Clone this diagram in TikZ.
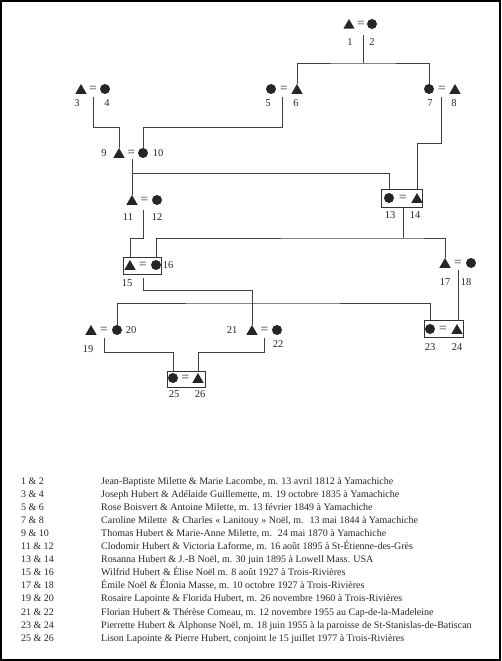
\documentclass[tikz,border=0pt]{standalone}
\usepackage{fontspec}
\setmainfont{Liberation Serif}
\usetikzlibrary{shapes.geometric}
\begin{document}
\begin{tikzpicture}[x=1pt,y=-1pt,
 tri/.style={regular polygon,regular polygon sides=3,fill=black!85,inner sep=0pt,minimum size=13pt},
 circ/.style={circle,fill=black!85,inner sep=0pt,minimum size=10pt},
 eqs/.style={inner sep=0pt,font=\fontsize{13.5}{13.5}\selectfont,text=black!80},
 lab/.style={inner sep=0pt,font=\fontsize{10.5}{12}\selectfont,text=black!85},
 couplebox/.style={draw=black!80,line width=0.6pt,inner sep=0pt},
 conn/.style={draw=black!75,line width=0.6pt},
 leg/.style={inner sep=0pt,font=\fontsize{10}{12}\selectfont,anchor=base west,text=black!85}]
\useasboundingbox (0,0) rectangle (501,661);
\node[draw,line width=2pt,minimum width=499pt,minimum height=659pt,inner sep=0pt] (frame) at (250.5,330.5) {};
% boxes
\node[couplebox,minimum width=41pt,minimum height=18pt] (b13) at (401.5,198.5) {};
\node[couplebox,minimum width=38pt,minimum height=17pt] (b15) at (142,265.5) {};
\node[couplebox,minimum width=39pt,minimum height=17pt] (b23) at (443.5,328.5) {};
\node[couplebox,minimum width=38pt,minimum height=16pt] (b25) at (186,379) {};
% 1 = 2
\node[tri] (t1) at (349,25.5) {};
\node[eqs] (e12) at (361,24) {=};
\node[circ] (c2) at (372,24) {};
\node[lab] (l1) at (350,42) {1};
\node[lab] (l2) at (372,42) {2};
\coordinate (d12) at (363,35);
% 3 = 4
\node[tri] (t3) at (81,90.5) {};
\node[eqs] (e34) at (93,89) {=};
\node[circ] (c4) at (105,89) {};
\node[lab] (l3) at (77,103) {3};
\node[lab] (l4) at (107,103) {4};
\coordinate (d34) at (93,97);
% 5 = 6
\node[circ] (c5) at (271,89) {};
\node[eqs] (e56) at (284,89) {=};
\node[tri] (t6) at (297,90.5) {};
\node[lab] (l5) at (268,103) {5};
\node[lab] (l6) at (296,103) {6};
\coordinate (d56) at (282,97);
% 7 = 8
\node[circ] (c7) at (429,89) {};
\node[eqs] (e78) at (442,89) {=};
\node[tri] (t8) at (455,90.5) {};
\node[lab] (l7) at (430,103) {7};
\node[lab] (l8) at (454,103) {8};
\coordinate (d78) at (441,97);
% 9 = 10
\node[lab] (l9) at (104,153) {9};
\node[tri] (t9) at (119,154.5) {};
\node[eqs] (e910) at (131.5,153) {=};
\node[circ] (c10) at (143,153) {};
\node[lab] (l10) at (158,153) {10};
\coordinate (d910) at (132,159);
\coordinate (h910) at (132,173);
% 11 = 12
\node[tri] (t11) at (132,201.5) {};
\node[eqs] (e1112) at (144.5,200) {=};
\node[circ] (c12) at (157,200) {};
\node[lab] (l11) at (128,217) {11};
\node[lab] (l12) at (157,217) {12};
\coordinate (d1112) at (143,210);
% 13 = 14
\node[circ] (c13) at (389,198) {};
\node[eqs] (e1314) at (403,198) {=};
\node[tri] (t14) at (417,199.5) {};
\node[lab] (l13) at (390,215) {13};
\node[lab] (l14) at (415,215) {14};
\coordinate (d1314) at (403,207.5);
% 15 = 16
\node[tri] (t15) at (130,266.5) {};
\node[eqs] (e1516) at (143,265) {=};
\node[circ] (c16) at (156,265) {};
\node[lab] (l16) at (168,265) {16};
\node[lab] (l15) at (127,283) {15};
\coordinate (d1516) at (143,278);
% 17 = 18
\node[tri] (t17) at (445,264.5) {};
\node[eqs] (e1718) at (458,263) {=};
\node[circ] (c18) at (471,263) {};
\node[lab] (l17) at (445,282) {17};
\node[lab] (l18) at (466,282) {18};
\coordinate (d1718) at (458,270);
% 19 = 20
\node[tri] (t19) at (91,331.5) {};
\node[eqs] (e1920) at (104,330) {=};
\node[circ] (c20) at (117,330) {};
\node[lab] (l20) at (131,330) {20};
\node[lab] (l19) at (88,349) {19};
\coordinate (d1920) at (104,338);
% 21 = 22
\node[lab] (l21) at (232,330) {21};
\node[tri] (t21) at (252,331.5) {};
\node[eqs] (e2122) at (264.5,330) {=};
\node[circ] (c22) at (277,330) {};
\node[lab] (l22) at (278,344) {22};
\coordinate (d2122) at (264,338);
\coordinate (hsib) at (252,303);
% 23 = 24
\node[circ] (c23) at (430,329) {};
\node[eqs] (e2324) at (443,329) {=};
\node[tri] (t24) at (457,330.5) {};
\node[lab] (l23) at (430,347) {23};
\node[lab] (l24) at (457,347) {24};
% 25 = 26
\node[circ] (c25) at (173,378) {};
\node[eqs] (e2526) at (185.5,378) {=};
\node[tri] (t26) at (198,379.5) {};
\node[lab] (l25) at (174,394) {25};
\node[lab] (l26) at (200,394) {26};
% connectors
\draw[conn] (d12) -- ++(0,28) coordinate (h12);
\draw[conn] (t6.north) |- (h12) -| (c7.north);
\draw[conn] (d34) -- ++(0,30) -| (t9.north);
\draw[conn] (d56) -- ++(0,30) -| (c10.north);
\draw[conn] (d78) -- ++(0,46) -| (t14 |- b13.north);
\draw[conn] (d910) -- (t11.north);
\draw[conn] (h910) -| (c13 |- b13.north);
\draw[conn] (d1112) -- ++(0,28) -| (t15 |- b15.north);
\draw[conn] (d1314) -- ++(0,30.5) coordinate (h1314);
\draw[conn] (c16 |- b15.north) |- (h1314) -| (t17.north);
\draw[conn] (d1516) -- ++(0,12) -| (t21.north);
\draw[conn] (c20.north) |- (hsib) -| (c23 |- b23.north);
\draw[conn] (d1718) -- (d1718 |- b23.north);
\draw[conn] (d1920) -- ++(0,14) -| (c25 |- b25.north);
\draw[conn] (d2122) -- ++(0,14) -| (t26 |- b25.north);
% legend
\node[leg] (k1) at (21,484) {1 \& 2};
\node[leg] (v1) at (101,484) {Jean-Baptiste Milette \& Marie Lacombe, m. 13 avril 1812 à Yamachiche};
\node[leg] (k2) at (21,497.1) {3 \& 4};
\node[leg] (v2) at (101,497.1) {Joseph Hubert \& Adélaide Guillemette, m. 19 octobre 1835 à Yamachiche};
\node[leg] (k3) at (21,510.2) {5 \& 6};
\node[leg] (v3) at (101,510.2) {Rose Boisvert \& Antoine Milette, m. 13 février 1849 à Yamachiche};
\node[leg] (k4) at (21,523.3) {7 \& 8};
\node[leg] (v4) at (101,523.3) {Caroline Milette~ \& Charles « Lanitouy » Noël, m.~ 13 mai 1844 à Yamachiche};
\node[leg] (k5) at (21,536.4) {9 \& 10};
\node[leg] (v5) at (101,536.4) {Thomas Hubert \& Marie-Anne Milette, m.~ 24 mai 1870 à Yamachiche};
\node[leg] (k6) at (21,549.5) {11 \& 12};
\node[leg] (v6) at (101,549.5) {Clodomir Hubert \& Victoria Laforme, m. 16 août 1895 à St-Étienne-des-Grès};
\node[leg] (k7) at (21,562.6) {13 \& 14};
\node[leg] (v7) at (101,562.6) {Rosanna Hubert \& J.-B Noël, m. 30 juin 1895 à Lowell Mass. USA};
\node[leg] (k8) at (21,575.7) {15 \& 16};
\node[leg] (v8) at (101,575.7) {Wilfrid Hubert \& Élise Noël m. 8 août 1927 à Trois-Rivières};
\node[leg] (k9) at (21,588.8) {17 \& 18};
\node[leg] (v9) at (101,588.8) {Émile Noël \& Élonia Masse, m. 10 octobre 1927 à Trois-Rivières};
\node[leg] (k10) at (21,601.9) {19 \& 20};
\node[leg] (v10) at (101,601.9) {Rosaire Lapointe \& Florida Hubert, m. 26 novembre 1960 à Trois-Rivières};
\node[leg] (k11) at (21,615) {21 \& 22};
\node[leg] (v11) at (101,615) {Florian Hubert \& Thérèse Comeau, m. 12 novembre 1955 au Cap-de-la-Madeleine};
\node[leg] (k12) at (21,628.1) {23 \& 24};
\node[leg] (v12) at (101,628.1) {Pierrette Hubert \& Alphonse Noël, m. 18 juin 1955 à la paroisse de St-Stanislas-de-Batiscan};
\node[leg] (k13) at (21,641.2) {25 \& 26};
\node[leg] (v13) at (101,641.2) {Lison Lapointe \& Pierre Hubert, conjoint le 15 juillet 1977 à Trois-Rivières};
\end{tikzpicture}
\end{document}
